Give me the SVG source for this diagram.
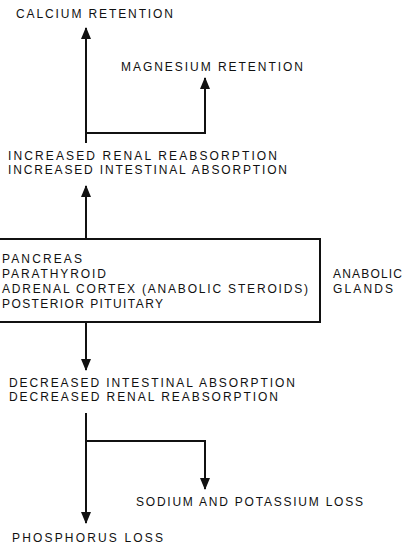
<svg xmlns="http://www.w3.org/2000/svg" width="410" height="545" viewBox="0 0 410 545">
<defs>
<style>
text{font-family:"Liberation Sans",Arial,sans-serif;font-size:12px;fill:#111;}
.ln{fill:none;stroke:#111;stroke-width:2;}
.box{fill:#fff;stroke:#111;stroke-width:2;}
</style>
<marker id="ah" viewBox="0 0 12 10" refX="11" refY="5" markerWidth="12" markerHeight="10" markerUnits="userSpaceOnUse" orient="auto">
<path d="M0,0 L12,5 L0,10 Z" fill="#111"/>
</marker>
</defs>
<g id="connectors">
<path class="ln" d="M86,143 V28" marker-end="url(#ah)"/>
<path class="ln" d="M86,133 H205 V78" marker-end="url(#ah)"/>
<path class="ln" d="M86,239 V186" marker-end="url(#ah)"/>
<path class="ln" d="M86,322 V370" marker-end="url(#ah)"/>
<path class="ln" d="M86,413 V523" marker-end="url(#ah)"/>
<path class="ln" d="M86,441 H205 V489" marker-end="url(#ah)"/>
</g>
<g id="calcium"><text x="16" y="18" textLength="157" lengthAdjust="spacing">CALCIUM RETENTION</text></g>
<g id="magnesium"><text x="121" y="71" textLength="182" lengthAdjust="spacing">MAGNESIUM RETENTION</text></g>
<g id="increased">
<text x="8" y="160" textLength="269" lengthAdjust="spacing">INCREASED RENAL REABSORPTION</text>
<text x="8" y="174" textLength="279" lengthAdjust="spacing">INCREASED INTESTINAL ABSORPTION</text>
</g>
<g id="glands">
<rect class="box" x="-2" y="239" width="322" height="83"/>
<text x="2" y="263" textLength="80" lengthAdjust="spacing">PANCREAS</text>
<text x="2" y="278" textLength="104" lengthAdjust="spacing">PARATHYROID</text>
<text x="2" y="293" textLength="306" lengthAdjust="spacing">ADRENAL CORTEX (ANABOLIC STEROIDS)</text>
<text x="2" y="308" textLength="161" lengthAdjust="spacing">POSTERIOR PITUITARY</text>
</g>
<g id="anabolic-label">
<text x="333" y="278" textLength="69" lengthAdjust="spacing">ANABOLIC</text>
<text x="333" y="293" textLength="60" lengthAdjust="spacing">GLANDS</text>
</g>
<g id="decreased">
<text x="9" y="387" textLength="286" lengthAdjust="spacing">DECREASED INTESTINAL ABSORPTION</text>
<text x="9" y="401" textLength="269" lengthAdjust="spacing">DECREASED RENAL REABSORPTION</text>
</g>
<g id="sodium"><text x="136" y="506" textLength="227" lengthAdjust="spacing">SODIUM AND POTASSIUM LOSS</text></g>
<g id="phosphorus"><text x="12" y="542" textLength="151" lengthAdjust="spacing">PHOSPHORUS LOSS</text></g>
</svg>
